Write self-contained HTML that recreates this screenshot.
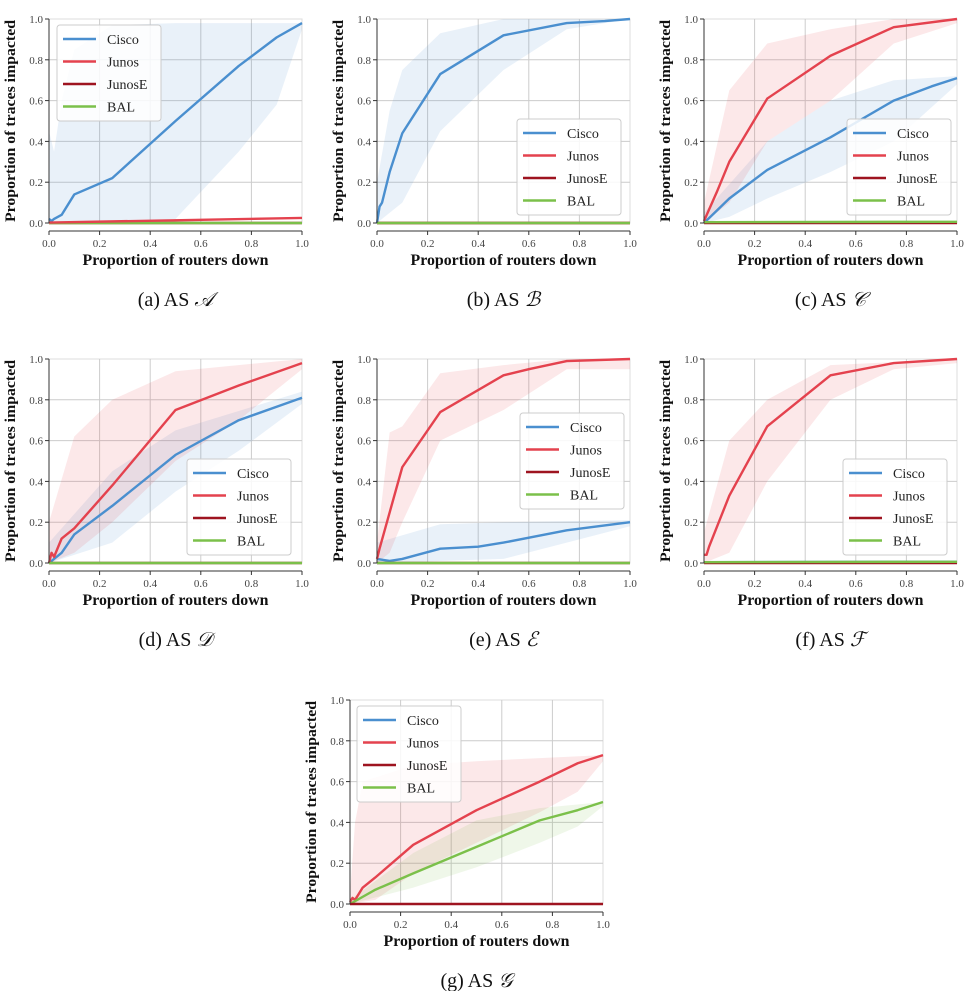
<!DOCTYPE html>
<html><head><meta charset="utf-8"><style>
body{margin:0;background:#fff;}
svg text{font-family:"Liberation Serif",serif;}
</style></head><body>
<svg id="s" width="967" height="991" xmlns="http://www.w3.org/2000/svg"></svg>
<script>
const C={Cisco:'#4a8fcf',Junos:'#e4424e',JunosE:'#9e1420',BAL:'#7bc04a'};
const W=253,H=204;
let out='';
function panel(x0,y0,ser,leg,cap){
  const X=v=>x0+v*W, Y=v=>y0+H-v*H;
  let s='';
  s+=`<rect x="${x0}" y="${y0}" width="${W}" height="${H}" fill="#fff" stroke="#ddd" stroke-width="1"/>`;
  for(let i=1;i<5;i++){s+=`<line x1="${X(i/5)}" y1="${y0}" x2="${X(i/5)}" y2="${y0+H}" stroke="#ccc" stroke-width="1"/>`;
    s+=`<line x1="${x0}" y1="${Y(i/5)}" x2="${x0+W}" y2="${Y(i/5)}" stroke="#ccc" stroke-width="1"/>`;}
  for(const k of ['Cisco','Junos','BAL']){const o=ser[k];if(!o||!o.hi)continue;
    let p=o.hi.map(q=>`${X(q[0])},${Y(q[1])}`).concat(o.lo.slice().reverse().map(q=>`${X(q[0])},${Y(q[1])}`));
    s+=`<polygon points="${p.join(' ')}" fill="${C[k]}" fill-opacity="0.12"/>`;}
  const order=ser.order||['Cisco','Junos','JunosE','BAL'];
  for(const k of order){const o=ser[k];if(!o)continue;
    s+=`<polyline points="${o.m.map(q=>`${X(q[0])},${Y(q[1])}`).join(' ')}" fill="none" stroke="${C[k]}" stroke-width="2.4" stroke-linejoin="round"/>`;}
  s+=`<line x1="${x0}" y1="${y0}" x2="${x0}" y2="${y0+H}" stroke="#333" stroke-width="1"/>`;
  s+=`<line x1="${x0}" y1="${y0+H+8}" x2="${x0+W}" y2="${y0+H+8}" stroke="#333" stroke-width="1"/>`;
  for(let i=0;i<=5;i++){const v=i/5;
    s+=`<line x1="${x0-4}" y1="${Y(v)}" x2="${x0}" y2="${Y(v)}" stroke="#333"/>`;
    s+=`<text x="${x0-6}" y="${Y(v)+4}" font-size="11" text-anchor="end" fill="#444">${v.toFixed(1)}</text>`;
    s+=`<line x1="${X(v)}" y1="${y0+H+8}" x2="${X(v)}" y2="${y0+H+12}" stroke="#333"/>`;
    s+=`<text x="${X(v)}" y="${y0+H+24}" font-size="11" text-anchor="middle" fill="#444">${v.toFixed(1)}</text>`;}
  s+=`<text x="${x0+W/2}" y="${y0+H+42}" font-size="16" font-weight="bold" text-anchor="middle" fill="#111" textLength="186" lengthAdjust="spacingAndGlyphs">Proportion of routers down</text>`;
  s+=`<text transform="translate(${x0-34},${y0+H/2}) rotate(-90)" x="0" y="0" font-size="15" font-weight="bold" text-anchor="middle" fill="#111" textLength="202" lengthAdjust="spacingAndGlyphs">Proportion of traces impacted</text>`;
  const lx=x0+leg[0],ly=y0+leg[1];
  s+=`<rect x="${lx}" y="${ly}" width="104" height="96" rx="3" fill="#fff" fill-opacity="0.85" stroke="#ccc"/>`;
  ['Cisco','Junos','JunosE','BAL'].forEach((k,i)=>{const yy=ly+14+i*22.5;
    s+=`<line x1="${lx+6}" y1="${yy}" x2="${lx+39}" y2="${yy}" stroke="${C[k]}" stroke-width="2.4"/>`;
    s+=`<text x="${lx+50}" y="${yy+5}" font-size="14" fill="#222">${k}</text>`;});
  s+=`<text x="${x0+W/2}" y="${y0+H+83}" font-size="20" text-anchor="middle" fill="#111">${cap}</text>`;
  out+=s;
}
const z=[[0,0],[1,0]], z5=[[0,0.004],[1,0.006]];
panel(49,19,{Cisco:{m:[[0,.02],[.01,.01],[.02,.02],[.05,.04],[.1,.14],[.25,.22],[.5,.5],[.75,.77],[.9,.91],[1,.98]],
  hi:[[0,.45],[.02,.35],[.05,.6],[.1,.85],[.25,.97],[.5,.98],[1,.98]],lo:[[0,0],[.25,0],[.5,.02],[.75,.35],[.9,.58],[1,.95]]},
  Junos:{m:[[0,.002],[1,.025]]},JunosE:{m:z},BAL:{m:z},order:['Cisco','JunosE','BAL','Junos']},[8,6],'(a) AS <tspan font-style="italic">𝒜</tspan>');
panel(377,19,{Cisco:{m:[[0,0],[.01,.08],[.02,.1],[.05,.25],[.1,.44],[.25,.73],[.5,.92],[.75,.98],[.9,.99],[1,1]],
  hi:[[0,.2],[.05,.55],[.1,.75],[.25,.93],[.5,1],[1,1]],lo:[[0,0],[.1,.1],[.25,.45],[.5,.75],[.75,.95],[1,1]]},
  Junos:{m:z},JunosE:{m:z},BAL:{m:z}},[140,100],'(b) AS <tspan font-style="italic">ℬ</tspan>');
panel(704,19,{Junos:{m:[[0,.01],[.05,.15],[.1,.3],[.25,.61],[.5,.82],[.75,.96],[1,1]],
  hi:[[0,.1],[.1,.65],[.25,.88],[.5,.95],[.75,1],[1,1]],lo:[[0,0],[.1,.1],[.25,.4],[.5,.6],[.75,.88],[1,.98]]},
  Cisco:{m:[[0,0],[.1,.12],[.25,.26],[.5,.42],[.75,.6],[.9,.67],[1,.71]],
  hi:[[0,.05],[.25,.4],[.5,.6],[.75,.7],[1,.72]],lo:[[0,0],[.1,.03],[.25,.12],[.5,.25],[.75,.4],[1,.68]]},
  JunosE:{m:z},BAL:{m:z5}},[143,100],'(c) AS <tspan font-style="italic">𝒞</tspan>');
panel(49,359,{Junos:{m:[[0,0],[.01,.05],[.02,.03],[.05,.12],[.1,.17],[.25,.38],[.5,.75],[.75,.87],[1,.98]],
  hi:[[0,.2],[.1,.62],[.25,.8],[.5,.94],[1,1]],lo:[[0,0],[.1,.05],[.25,.2],[.5,.5],[.75,.7],[1,.95]]},
  Cisco:{m:[[0,0],[.05,.05],[.1,.14],[.25,.28],[.5,.53],[.75,.7],[1,.81]],
  hi:[[0,.1],[.25,.45],[.5,.65],[1,.84]],lo:[[0,0],[.25,.1],[.5,.35],[.75,.55],[1,.78]]},
  JunosE:{m:z},BAL:{m:z}},[138,100],'(d) AS <tspan font-style="italic">𝒟</tspan>');
panel(377,359,{Junos:{m:[[0,.02],[.01,.07],[.1,.47],[.25,.74],[.5,.92],[.6,.95],[.75,.99],[1,1]],
  hi:[[0,.1],[.05,.64],[.1,.67],[.25,.93],[.5,.97],[.75,1],[1,1]],lo:[[0,0],[.05,.05],[.1,.2],[.25,.6],[.5,.75],[.75,.95],[1,.95]]},
  Cisco:{m:[[0,.02],[.05,.01],[.1,.02],[.25,.07],[.4,.08],[.5,.1],[.75,.16],[1,.2]],
  hi:[[0,.1],[.25,.19],[.5,.2],[1,.21]],lo:[[0,0],[.5,.02],[.75,.1],[1,.18]]},
  JunosE:{m:z},BAL:{m:z}},[143,54],'(e) AS <tspan font-style="italic">ℰ</tspan>');
panel(704,359,{Junos:{m:[[0,.04],[.01,.04],[.02,.08],[.1,.33],[.25,.67],[.5,.92],[.75,.98],[1,1]],
  hi:[[0,.15],[.1,.6],[.25,.8],[.5,.97],[1,1]],lo:[[0,0],[.1,.05],[.25,.4],[.5,.8],[.75,.95],[1,.98]]},
  Cisco:{m:z5},JunosE:{m:z},BAL:{m:z5}},[139,100],'(f) AS <tspan font-style="italic">ℱ</tspan>');
panel(350,700,{Junos:{m:[[0,.01],[.01,.03],[.02,.02],[.05,.08],[.1,.13],[.25,.29],[.5,.46],[.75,.6],[.9,.69],[1,.73]],
  hi:[[0,.05],[.02,.4],[.05,.6],[.25,.68],[.5,.7],[1,.73]],lo:[[0,0],[.1,.02],[.25,.15],[.5,.3],[.75,.45],[.9,.55],[1,.7]]},
  BAL:{m:[[0,0],[.1,.07],[.25,.15],[.5,.28],[.75,.41],[.9,.46],[1,.5]],
  hi:[[0,.02],[.25,.25],[.5,.41],[.75,.47],[1,.5]],lo:[[0,0],[.25,.08],[.5,.18],[.75,.3],[.9,.38],[1,.48]]},
  JunosE:{m:z},order:['Junos','BAL','JunosE']},[7,6],'(g) AS <tspan font-style="italic">𝒢</tspan>');
document.getElementById('s').innerHTML=out;
</script>
</body></html>
